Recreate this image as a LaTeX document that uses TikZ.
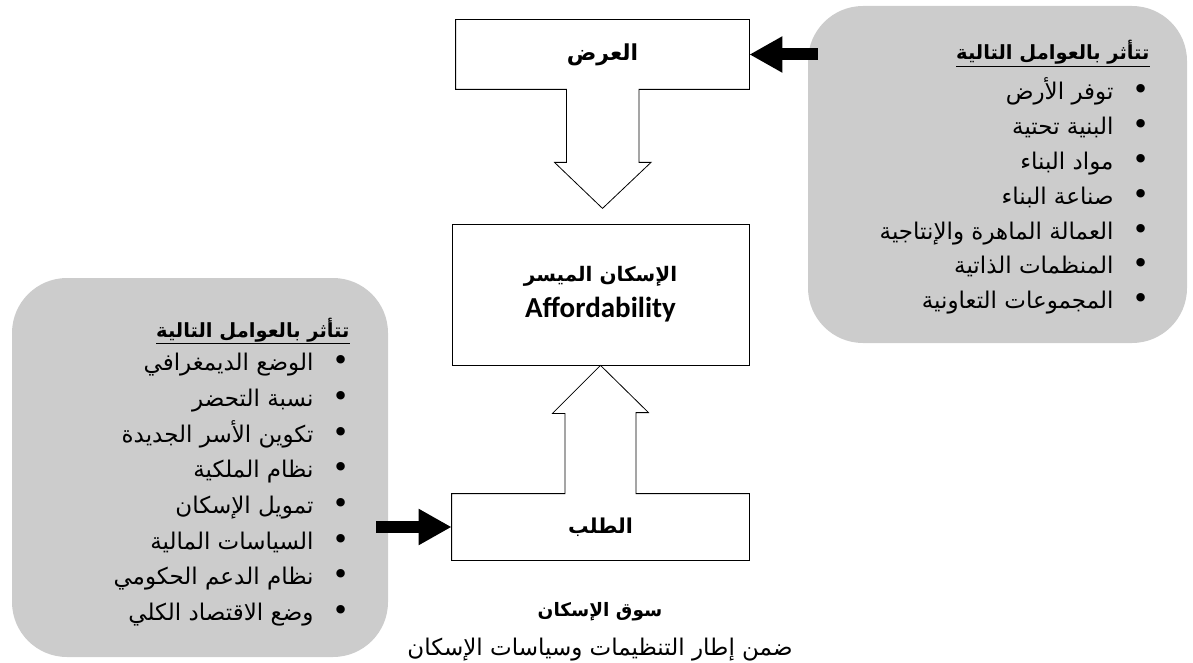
\documentclass[tikz,border=0pt]{standalone}
\usepackage{fontspec}
\usepackage{tikz}
\usetikzlibrary{arrows.meta,calc,positioning}
\newfontfamily\arabicfont[Script=Arabic]{DejaVu Sans}
\newfontfamily\latinfont{Carlito}
\TeXXeTstate=1
\newcommand{\artxt}[1]{{\arabicfont\beginR #1\endR}}
\newcommand{\bul}{{\fontsize{29}{29}\selectfont •}}

\begin{document}
\begin{tikzpicture}[x=1pt,y=-1pt,thick,line join=miter,
	box/.style={inner sep=0pt,minimum width=297pt,align=center},
	factors/.style={fill=gray!40,rounded corners=55pt,inner sep=0pt},
	heading/.style={anchor=base east,inner sep=0pt,font=\fontsize{19.5}{23}\selectfont\bfseries},
	item/.style={anchor=base east,inner sep=0pt,font=\fontsize{23}{27}\selectfont},
	fatarrow/.style={line width=12pt,-{Triangle[length=33pt,width=34pt]}}]
	\useasboundingbox (0,0) rectangle (1193,663);

	% factor panels
	\node[factors,minimum width=379pt,minimum height=337pt] (rfac) at (997.5,174.5) {};
	\node[factors,minimum width=376pt,minimum height=379pt] (lfac) at (200,467.5) {};

	% market boxes
	\node[box,minimum width=293pt,minimum height=69pt,font=\fontsize{22}{26}\selectfont\bfseries] (supply) at (602.5,54.5) {\artxt{العرض}};
	\node[box,draw,minimum height=141pt] (afford) at (600.5,294.5)
		{\fontsize{20}{24}\selectfont\bfseries\artxt{الإسكان الميسر}\\[10pt]
		 \latinfont\fontsize{29}{33}\selectfont\bfseries Affordability};
	\node[box,minimum height=66pt,font=\fontsize{20.5}{24}\selectfont\bfseries] (demand) at (600.5,527) {\artxt{الطلب}};

	% supply box with its down arrow
	\draw (supply.north west) -- (supply.north east) -- (supply.south east)
		-- ($(supply.south)+(36.5pt,0)$) -- ++(0,-73pt) -- ++(12pt,0) -- ($(supply.south)+(0,-119pt)$)
		-- ++(-48pt,46pt) -- ++(12pt,0) -- ++(0,73pt) -- (supply.south west) -- cycle;
	% demand box with its up arrow
	\draw ($(demand.north)+(-35.5pt,0)$) -- (demand.north west) -- (demand.south west) -- (demand.south east) -- (demand.north east)
		-- ($(demand.north)+(35.5pt,0)$) -- ++(0,81pt) -- ++(12.5pt,0) -- (afford.south)
		-- ++(-48pt,-48pt) -- ++(12.5pt,0) -- cycle;

	% right list
	\node[heading] (rhead) at (1150,60) {\underline{\artxt{تتأثر بالعوامل التالية}}};
	\foreach \txt [count=\i] in {توفر الأرض,البنية تحتية,مواد البناء,صناعة البناء,العمالة الماهرة والإنتاجية,المنظمات الذاتية,المجموعات التعاونية}
		\node[item] (rf\i) at (1150,{65+34.8*\i}) {\artxt{\bul\hspace{19pt}\txt}};

	% left list
	\node[heading] (lhead) at (350,337) {\underline{\artxt{تتأثر بالعوامل التالية}}};
	\foreach \txt [count=\i] in {الوضع الديمغرافي,نسبة التحضر,تكوين الأسر الجديدة,نظام الملكية,تمويل الإسكان,السياسات المالية,نظام الدعم الحكومي,وضع الاقتصاد الكلي}
		\node[item] (lf\i) at (350,{335+35.7*\i}) {\artxt{\bul\hspace{19pt}\txt}};

	% influence arrows
	\draw[fatarrow] ($(rfac.west |- supply.east)+(10pt,0)$) -- (supply.east);
	\draw[fatarrow] ($(lfac.east |- demand.west)+(-12pt,0)$) -- (demand.west);

	% caption
	\node[inner sep=0pt,font=\fontsize{18.5}{22}\selectfont\bfseries] (market) at (600,612) {\artxt{سوق الإسكان}};
	\node[inner sep=0pt,font=\fontsize{23}{27}\selectfont,below=16pt of market] (frame) {\artxt{ضمن إطار التنظيمات وسياسات الإسكان}};
\end{tikzpicture}
\end{document}
